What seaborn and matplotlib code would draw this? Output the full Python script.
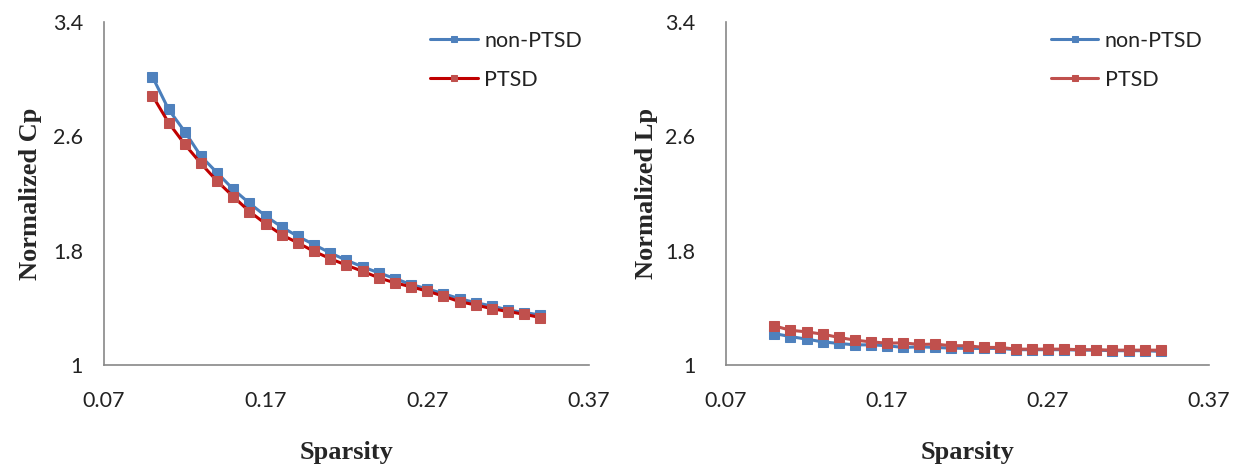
import numpy as np
import pandas as pd
import matplotlib
matplotlib.use("Agg")
import matplotlib.pyplot as plt
import seaborn as sns

# sparsity thresholds
sparsity = [0.10, 0.11, 0.12, 0.13, 0.14, 0.15, 0.16, 0.17, 0.18, 0.19, 0.20, 0.21, 0.22,
            0.23, 0.24, 0.25, 0.26, 0.27, 0.28, 0.29, 0.30, 0.31, 0.32, 0.33, 0.34]

# normalized Cp
cp_non_ptsd = [3.017, 2.788, 2.633, 2.461, 2.345, 2.229, 2.132, 2.043, 1.965, 1.900, 1.842,
               1.784, 1.733, 1.687, 1.645, 1.605, 1.563, 1.533, 1.499, 1.464, 1.436, 1.413,
               1.385, 1.367, 1.350]
cp_ptsd = [2.885, 2.695, 2.544, 2.410, 2.287, 2.178, 2.074, 1.988, 1.911, 1.854, 1.795,
           1.744, 1.698, 1.656, 1.610, 1.575, 1.547, 1.517, 1.482, 1.443, 1.420, 1.394,
           1.374, 1.355, 1.332]

# normalized Lp
lp_non_ptsd = [1.220, 1.199, 1.181, 1.162, 1.151, 1.141, 1.141, 1.135, 1.123, 1.127, 1.123,
               1.118, 1.116, 1.116, 1.116, 1.107, 1.107, 1.107, 1.107, 1.104, 1.104, 1.100,
               1.100, 1.100, 1.095]
lp_ptsd = [1.274, 1.243, 1.232, 1.216, 1.193, 1.174, 1.162, 1.153, 1.155, 1.144, 1.146,
           1.135, 1.135, 1.123, 1.123, 1.111, 1.111, 1.111, 1.111, 1.107, 1.107, 1.104,
           1.104, 1.104, 1.104]

groups = ["non-PTSD", "PTSD"]
xticks = [0.07, 0.17, 0.27, 0.37]
yticks = [1, 1.8, 2.6, 3.4]

sns.set_style("white")
plt.rcParams['font.family'] = ['Lato', 'DejaVu Sans']

fig = plt.figure(figsize=(12.36, 4.67), dpi=100)
ax1 = fig.add_axes([0.0841, 0.2184, 0.3924, 0.7345])
ax2 = fig.add_axes([0.5874, 0.2184, 0.3908, 0.7345])

blue_line, blue_mark = "#4A7EBB", "#4F81BD"
red_mark = "#C0504D"


def draw(ax, blue_vals, red_vals, red_line, ylab, ylab_x, ypad):
    df = pd.DataFrame({"x": sparsity + sparsity,
                       "y": blue_vals + red_vals,
                       "g": [groups[0]] * len(sparsity) + [groups[1]] * len(sparsity)})
    sns.lineplot(data=df[df.g == groups[0]], x="x", y="y", ax=ax, color=blue_line,
                 marker="s", markersize=6.5, markerfacecolor=blue_mark, markeredgecolor=blue_mark,
                 linewidth=2.2, label=groups[0])
    sns.lineplot(data=df[df.g == groups[1]], x="x", y="y", ax=ax, color=red_line,
                 marker="s", markersize=6.5, markerfacecolor=red_mark, markeredgecolor=red_mark,
                 linewidth=2.2, label=groups[1])
    ax.set_xlim(0.07, 0.37)
    ax.set_ylim(1, 3.4)
    ax.set_xticks(xticks)
    ax.set_yticks(yticks)
    ax.set_xticklabels([f"{t:.2f}" for t in xticks])
    ax.set_yticklabels([f"{t:g}" for t in yticks])
    ax.tick_params(direction="in", length=6, width=1, color="#888888", labelsize=15.5,
                   labelcolor="#222222")
    ax.tick_params(axis="x", pad=19)
    ax.tick_params(axis="y", pad=ypad)
    for s in ["top", "right"]:
        ax.spines[s].set_visible(False)
    for s in ["left", "bottom"]:
        ax.spines[s].set_color("#888888")
        ax.spines[s].set_linewidth(1.2)
    ax.set_xlabel("Sparsity", family="Liberation Serif", fontweight="bold", fontsize=19)
    ax.set_ylabel(ylab, family="Liberation Serif", fontweight="bold", fontsize=19)
    ax.xaxis.set_label_coords(0.5, -0.222)
    ax.yaxis.set_label_coords(ylab_x, 0.5)
    leg = ax.legend(loc="upper left", bbox_to_anchor=(0.655, 1.0), frameon=False,
                    fontsize=15.5, handlelength=2.2, handletextpad=0.3, labelspacing=0.9,
                    borderaxespad=0.0)
    for h in leg.legend_handles:
        h.set_markersize(5)
    for t in leg.get_texts():
        t.set_color("#222222")


draw(ax1, cp_non_ptsd, cp_ptsd, "#C00000", "Normalized Cp", -0.128, 15)
draw(ax2, lp_non_ptsd, lp_ptsd, red_mark, "Normalized Lp", -0.141, 22)

fig.savefig("out.png", dpi=100)
